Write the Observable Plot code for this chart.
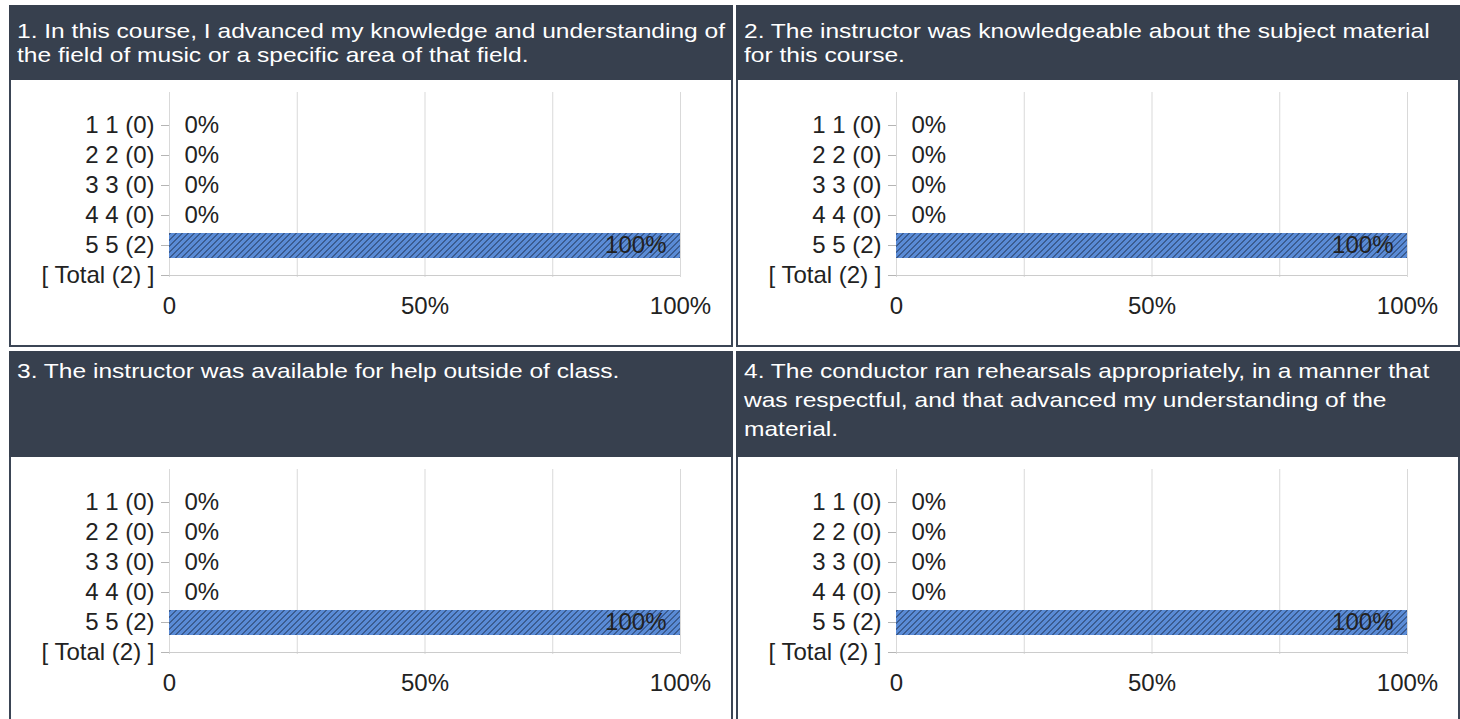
<!DOCTYPE html>
<html><head><meta charset="utf-8">
<script src="https://cdn.jsdelivr.net/npm/d3@7"></script>
<script src="https://cdn.jsdelivr.net/npm/@observablehq/plot@0.6"></script>
<style>
html,body{margin:0;padding:0;background:#fff;}
body{width:1460px;height:719px;overflow:hidden;position:relative;font-family:Arial,"Liberation Sans",sans-serif;}
.hdr{position:absolute;background:#37404e;color:#fff;font-size:21px;box-sizing:border-box;padding-left:8px;overflow:hidden;}
.hdr div{white-space:nowrap;}
.hdr span{display:inline-block;transform-origin:0 50%;}
.box{position:absolute;border:2px solid #3b4555;border-top:none;box-sizing:border-box;background:#fff;overflow:hidden;}
.box svg{display:block;}
</style></head><body>
<script>
// Question titles, one entry per line as shown
const questionLines = [
  ["1. In this course, I advanced my knowledge and understanding of", "the field of music or a specific area of that field."],
  ["2. The instructor was knowledgeable about the subject material", "for this course."],
  ["3. The instructor was available for help outside of class."],
  ["4. The conductor ran rehearsals appropriately, in a manner that", "was respectful, and that advanced my understanding of the", "material."]
];
// Rating levels
const levels = ["1", "2", "3", "4", "5"];
// Response counts per question for each level
const counts = [
  [0, 0, 0, 0, 2],
  [0, 0, 0, 0, 2],
  [0, 0, 0, 0, 2],
  [0, 0, 0, 0, 2]
];
// Axis ticks
const xTicks = [0, 50, 100];
const gridTicks = [0, 25, 50, 75, 100];
const xTickLabels = ["0", "50%", "100%"];

const FONT = "Arial, 'Liberation Sans', sans-serif";
const FS = 24;
const spans = [];

questionLines.forEach((lines, i) => {
  const col = i % 2, row = Math.floor(i / 2);
  const left = 9 + col * 727;
  const hTop = row ? 351 : 5;
  const hH = row ? 106 : 75;
  const hdr = document.createElement("div");
  hdr.className = "hdr";
  hdr.style.left = left + "px";
  hdr.style.top = hTop + "px";
  hdr.style.width = "724px";
  hdr.style.height = hH + "px";
  hdr.style.lineHeight = row ? "29px" : "24px";
  hdr.style.paddingTop = row ? "4.7px" : "13.7px";
  lines.forEach(t => {
    const d = document.createElement("div");
    const s = document.createElement("span");
    s.textContent = t;
    d.appendChild(s);
    hdr.appendChild(d);
    spans.push(s);
  });
  document.body.appendChild(hdr);

  const box = document.createElement("div");
  box.className = "box";
  box.style.left = left + "px";
  box.style.top = (hTop + hH) + "px";
  box.style.width = "724px";
  box.style.height = "267px";
  document.body.appendChild(box);

  const c = counts[i];
  const total = d3.sum(c);
  const data = levels.map((lv, k) => ({label: `${lv} ${lv} (${c[k]})`, pct: total ? c[k] / total * 100 : 0}));
  const labels = data.map(d => d.label).concat([`[ Total (${total}) ]`]);
  const pid = "hatch" + i;

  const defs = () => {
    const g = d3.create("svg:defs");
    const p = g.append("pattern").attr("id", pid).attr("patternUnits", "userSpaceOnUse")
      .attr("width", 6).attr("height", 6);
    p.append("rect").attr("width", 6).attr("height", 6).attr("fill", "#5a8bd6");
    p.append("path").attr("d", "M-1,7 L7,-1 M-1,1 L1,-1 M5,7 L7,5")
      .attr("stroke", "#14213a").attr("stroke-width", 0.9);
    return g.node();
  };

  const chart = Plot.plot({
    width: 720, height: 265,
    marginLeft: 158, marginRight: 51, marginTop: 12, marginBottom: 68,
    style: {fontFamily: FONT, fontSize: FS + "px", color: "#222", background: "#fff"},
    x: {domain: [0, 100], axis: null},
    y: {type: "point", domain: labels, padding: 0, insetTop: 31, axis: null},
    marks: [
      defs,
      Plot.ruleX(gridTicks, {x: d => d, stroke: "#d9d9d9", strokeOpacity: 1}),
      Plot.ruleY([labels[labels.length - 1]], {y: d => d, x1: 0, x2: 100, stroke: "#cccccc", strokeOpacity: 1}),
      Plot.ruleY(data.filter(d => d.pct > 0), {y: "label", x1: 0, x2: "pct", stroke: `url(#${pid})`, strokeWidth: 25, strokeOpacity: 1}),
      Plot.axisY({tickSize: 8, tickPadding: 7, stroke: "#b5b5b5", fill: "#222", fontSize: FS, fontFamily: FONT, label: null}),
      Plot.axisX({ticks: xTicks, tickSize: 0, tickPadding: 19, tickFormat: d => xTickLabels[xTicks.indexOf(d)], fill: "#222", fontSize: FS, fontFamily: FONT, label: null}),
      Plot.text(data.filter(d => d.pct <= 50), {x: "pct", y: "label", text: d => Math.round(d.pct) + "%", textAnchor: "start", dx: 15, fill: "#222", fontSize: FS, fontFamily: FONT}),
      Plot.text(data.filter(d => d.pct > 50), {x: "pct", y: "label", text: d => Math.round(d.pct) + "%", textAnchor: "end", dx: -14, fill: "#222", fontSize: FS, fontFamily: FONT})
    ]
  });
  box.appendChild(chart);
});

// Header text in the reference is rendered wider than plain Arial; stretch to match
const w0 = spans[0].getBoundingClientRect().width;
const k = w0 > 0 ? 708 / w0 : 1;
spans.forEach(s => { s.style.transform = `scaleX(${k})`; });
</script>
</body></html>
